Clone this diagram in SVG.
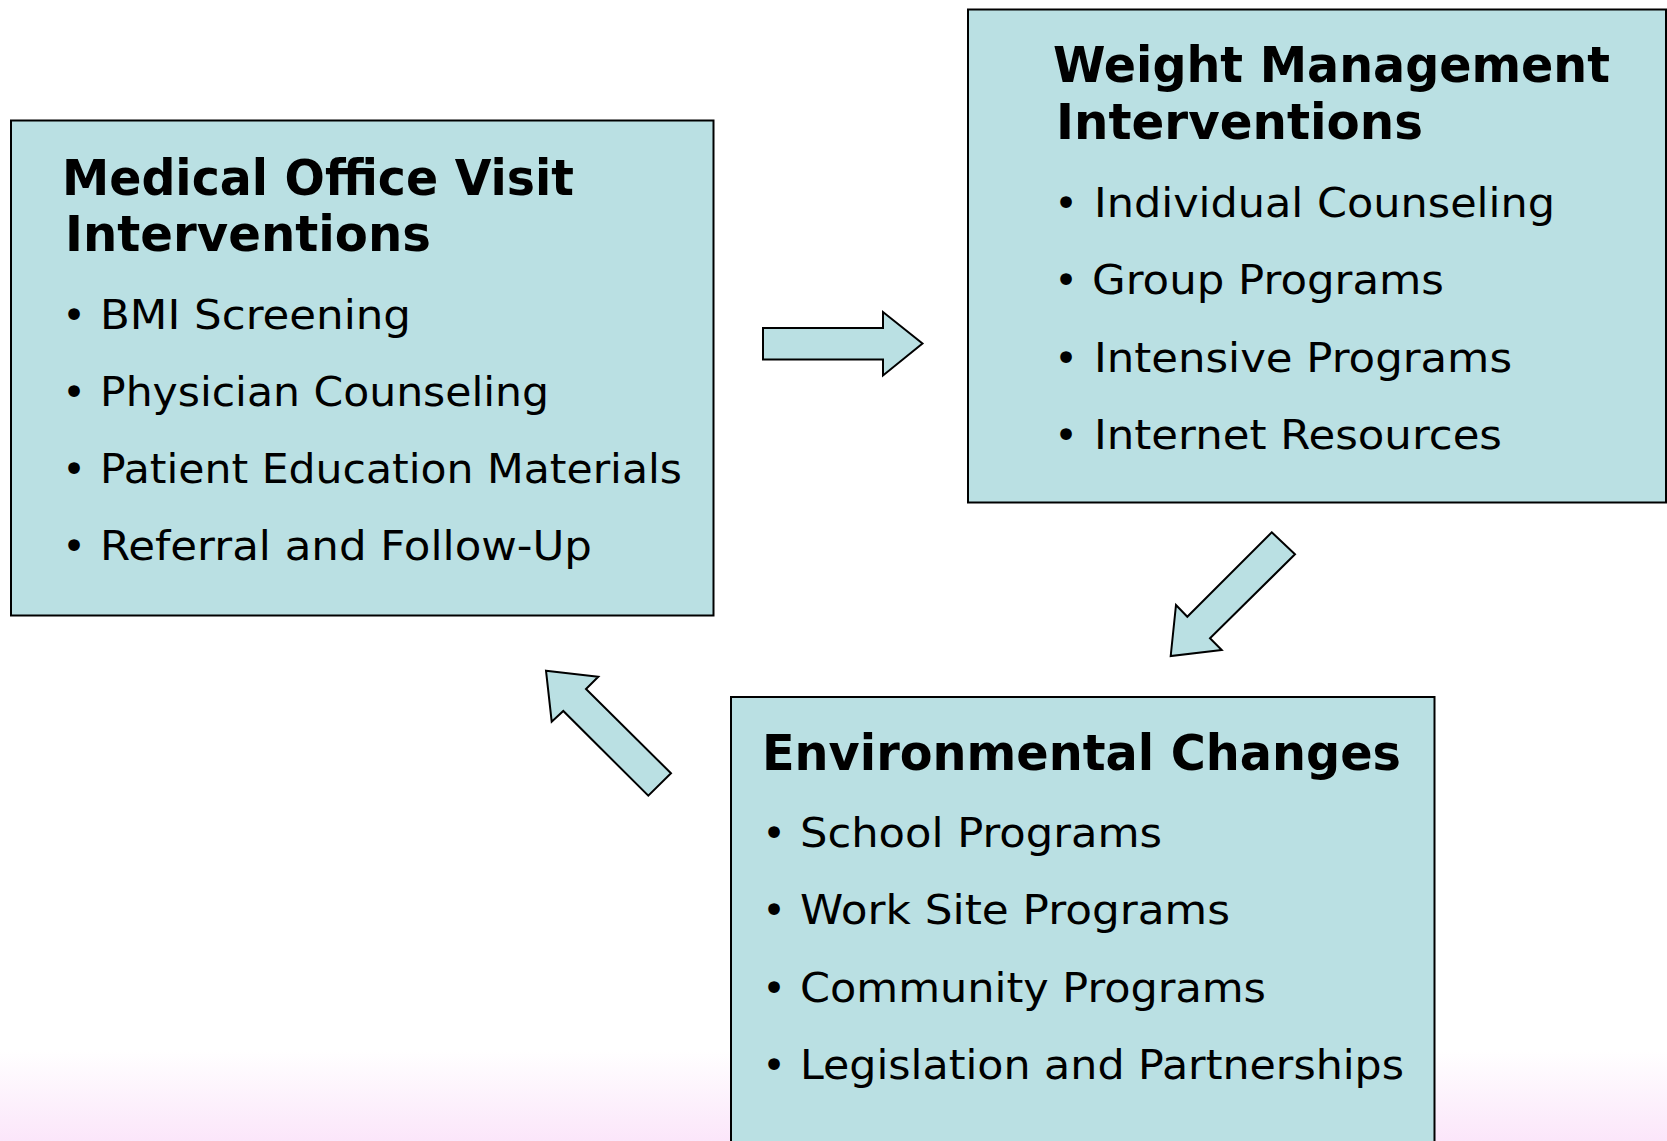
<svg xmlns="http://www.w3.org/2000/svg" width="1667" height="1141" viewBox="0 0 1667 1141">
<style>
.box{fill:#BAE0E3;stroke:#000;stroke-width:2}
.arrow{fill:#BAE0E3;stroke:#000;stroke-width:2;stroke-linejoin:miter}
.title{font-family:"DejaVu Sans",Verdana,sans-serif;font-weight:bold;font-size:50px;fill:#000}
.item{font-family:"DejaVu Sans",Verdana,sans-serif;font-size:40px;fill:#000}
.bul{font-family:"DejaVu Sans",Verdana,sans-serif;font-size:40px;fill:#000;text-anchor:middle}
</style>
<defs>
<linearGradient id="bg" x1="0" y1="1050" x2="0" y2="1141" gradientUnits="userSpaceOnUse">
<stop offset="0" stop-color="#FFFFFF"/>
<stop offset="1" stop-color="#FBE6FA"/>
</linearGradient>
</defs>
<rect x="0" y="0" width="1667" height="1141" fill="url(#bg)"/>

<g id="connectors">
<polygon class="arrow" points="763,328 883,328 883,312 922.5,343.5 883,375.5 883,359.5 763,359.5"/>
<polygon class="arrow" points="1271.7,532.3 1295,554.3 1210,638.3 1221.7,650 1170.7,656 1176,605 1187.3,616.7"/>
<polygon class="arrow" points="546,670.7 598.3,676.7 586,689 671,773.3 648.3,795.7 563.3,711 551.7,721.7"/>
</g>

<g id="medical-office">
<rect class="box" x="11" y="120.5" width="702.5" height="495"/>
<text class="title" x="62" y="195" textLength="512" lengthAdjust="spacingAndGlyphs">Medical Office Visit</text>
<text class="title" x="65" y="251" textLength="366" lengthAdjust="spacingAndGlyphs">Interventions</text>
<text class="bul" x="74" y="328.5">•</text>
<text class="item" x="100" y="328.5" textLength="311" lengthAdjust="spacingAndGlyphs">BMI Screening</text>
<text class="bul" x="74" y="405.8">•</text>
<text class="item" x="100" y="405.8" textLength="449" lengthAdjust="spacingAndGlyphs">Physician Counseling</text>
<text class="bul" x="74" y="483.1">•</text>
<text class="item" x="100" y="483.1" textLength="582" lengthAdjust="spacingAndGlyphs">Patient Education Materials</text>
<text class="bul" x="74" y="560.4">•</text>
<text class="item" x="100" y="560.4" textLength="492" lengthAdjust="spacingAndGlyphs">Referral and Follow-Up</text>
</g>

<g id="weight-management">
<rect class="box" x="968" y="9.5" width="698" height="493"/>
<text class="title" x="1053" y="82" textLength="557" lengthAdjust="spacingAndGlyphs">Weight Management</text>
<text class="title" x="1056" y="139" textLength="367" lengthAdjust="spacingAndGlyphs">Interventions</text>
<text class="bul" x="1066" y="217">•</text>
<text class="item" x="1094" y="217" textLength="461" lengthAdjust="spacingAndGlyphs">Individual Counseling</text>
<text class="bul" x="1066" y="294.3">•</text>
<text class="item" x="1092" y="294.3" textLength="352" lengthAdjust="spacingAndGlyphs">Group Programs</text>
<text class="bul" x="1066" y="371.6">•</text>
<text class="item" x="1094" y="371.6" textLength="418" lengthAdjust="spacingAndGlyphs">Intensive Programs</text>
<text class="bul" x="1066" y="448.9">•</text>
<text class="item" x="1094" y="448.9" textLength="408" lengthAdjust="spacingAndGlyphs">Internet Resources</text>
</g>

<g id="environmental-changes">
<rect class="box" x="731" y="697" width="703.5" height="460"/>
<text class="title" x="762" y="770" textLength="639" lengthAdjust="spacingAndGlyphs">Environmental Changes</text>
<text class="bul" x="774" y="847">•</text>
<text class="item" x="800" y="847" textLength="362" lengthAdjust="spacingAndGlyphs">School Programs</text>
<text class="bul" x="774" y="924.3">•</text>
<text class="item" x="800" y="924.3" textLength="430" lengthAdjust="spacingAndGlyphs">Work Site Programs</text>
<text class="bul" x="774" y="1001.6">•</text>
<text class="item" x="800" y="1001.6" textLength="466" lengthAdjust="spacingAndGlyphs">Community Programs</text>
<text class="bul" x="774" y="1078.9">•</text>
<text class="item" x="800" y="1078.9" textLength="604" lengthAdjust="spacingAndGlyphs">Legislation and Partnerships</text>
</g>
</svg>
